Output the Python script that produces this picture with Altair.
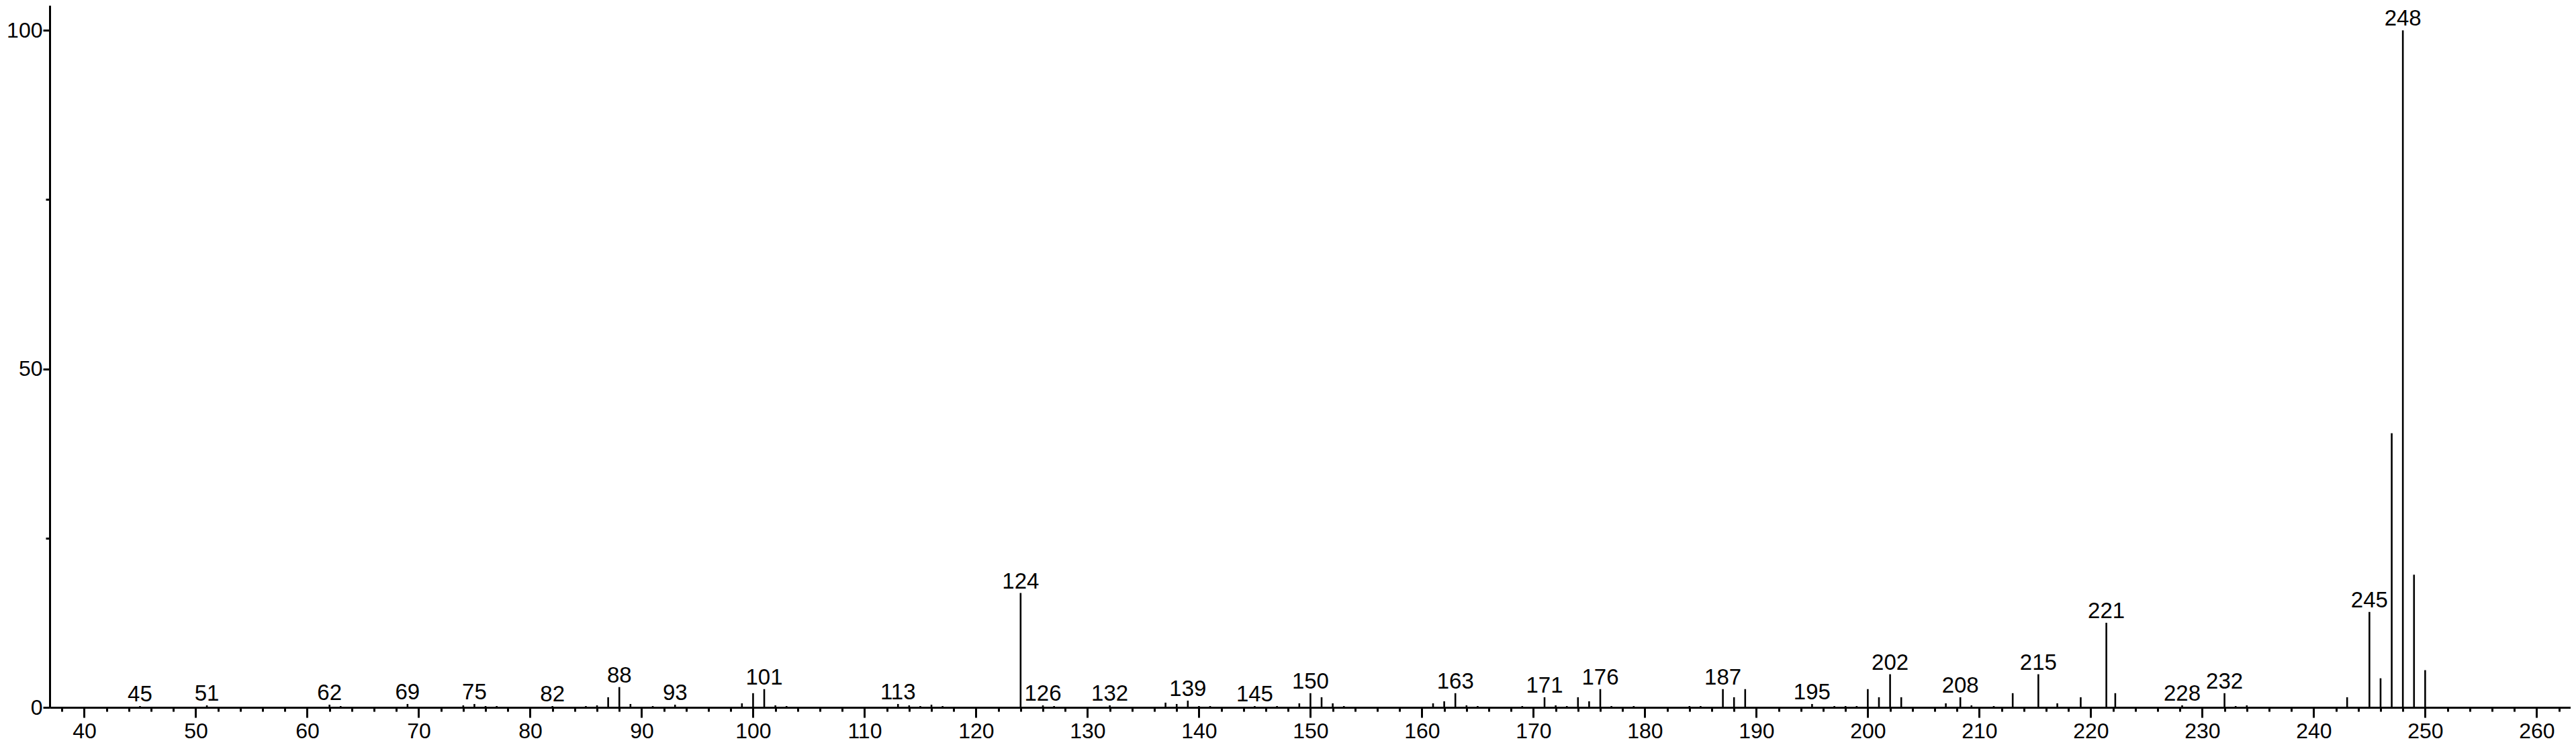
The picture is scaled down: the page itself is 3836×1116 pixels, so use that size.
import altair as alt
import pandas as pd

# m/z positions and relative intensities
mz = [45, 51, 62, 63, 69, 74, 75, 76, 77, 82, 85, 86, 87, 88, 89, 91, 93,
      99, 100, 101, 102, 103, 113, 114, 115, 116, 117, 124, 126, 127, 132,
      137, 138, 139, 140, 141, 145, 147, 149, 150, 151, 152, 153, 161, 162,
      163, 164, 165, 169, 171, 172, 173, 174, 175, 176, 177, 179, 184, 185,
      187, 188, 189, 195, 197, 198, 199, 200, 201, 202, 203, 207, 208.3,
      209.3, 211.3, 213, 215.3, 217, 219.1, 221.4, 222.2, 228.2, 232, 233,
      234, 243, 245, 246, 247, 248, 249, 250]
intensity = [0.2, 0.3, 0.4, 0.2, 0.5, 0.3, 0.5, 0.2, 0.2, 0.2, 0.2, 0.3, 1.5,
             3.0, 0.5, 0.2, 0.4, 0.6, 2.1, 2.7, 0.3, 0.2, 0.5, 0.3, 0.2, 0.4,
             0.2, 16.9, 0.3, 0.2, 0.3, 0.7, 0.5, 1.0, 0.2, 0.2, 0.2, 0.2, 0.6,
             2.1, 1.5, 0.6, 0.2, 0.6, 0.9, 2.1, 0.3, 0.2, 0.2, 1.5, 0.3, 0.2,
             1.5, 0.9, 2.7, 0.2, 0.2, 0.2, 0.2, 2.7, 1.5, 2.7, 0.5, 0.2, 0.2,
             0.2, 2.7, 1.5, 4.9, 1.5, 0.6, 1.5, 0.3, 0.2, 2.1, 4.9, 0.6, 1.5,
             12.5, 2.1, 0.3, 2.1, 0.2, 0.3, 1.5, 14.1, 4.3, 40.5, 100.0, 19.6,
             5.5]
labeled = [45, 51, 62, 69, 75, 82, 88, 93, 101, 113, 124, 126, 132, 139, 145,
           150, 163, 171, 176, 187, 195, 202, 208, 215, 221, 228, 232, 245, 248]

x_major = list(range(40, 261, 10))
x_minor = list(range(38, 263, 2))
y_major = [0, 50, 100]
y_minor = [25, 75]

labels = [str(int(round(m))) if int(round(m)) in labeled else "" for m in mz]
df = pd.DataFrame({"mz": mz, "intensity": intensity, "label": labels})

FONT = "Liberation Sans"
xscale = alt.Scale(domain=[36.9, 263.05], nice=False, zero=False)
yscale = alt.Scale(domain=[0, 103.7], nice=False, zero=False)

common_axis = dict(grid=False, title=None, domainColor="black", tickColor="black",
                   labelColor="black", domainWidth=3, tickWidth=3,
                   labelFont=FONT, labelFontSize=32)

peaks = alt.Chart(df).mark_rule(color="black", strokeWidth=2.6).encode(
    x=alt.X("mz:Q", scale=xscale,
            axis=alt.Axis(values=x_major, tickSize=15, labelPadding=5,
                          orient="bottom", labelOverlap=False, labelFlush=False,
                          **common_axis)),
    y=alt.Y("intensity:Q", scale=yscale,
            axis=alt.Axis(values=y_major, tickSize=10, labelPadding=1,
                          orient="left", labelOverlap=False, labelFlush=False,
                          **common_axis)),
    y2=alt.datum(0),
)

texts = alt.Chart(df).transform_filter(alt.datum.label != "").mark_text(
    baseline="bottom", align="center", dy=0, fontSize=33, font=FONT, color="black"
).encode(
    x=alt.X("mz:Q", scale=xscale, axis=None),
    y=alt.Y("intensity:Q", scale=yscale, axis=None),
    text="label:N",
)

minor = alt.Chart(df).mark_rule(opacity=0).encode(
    x=alt.X("mz:Q", scale=xscale,
            axis=alt.Axis(values=x_minor, tickSize=6, labels=False, domain=False,
                          orient="bottom", grid=False, title=None,
                          tickColor="black", tickWidth=3)),
    y=alt.Y("intensity:Q", scale=yscale,
            axis=alt.Axis(values=y_minor, tickSize=6, labels=False, domain=False,
                          orient="left", grid=False, title=None,
                          tickColor="black", tickWidth=3)),
)

chart = alt.layer(peaks, texts, minor).resolve_axis(
    x="independent", y="independent"
).properties(
    width=3754, height=1046,
    autosize=alt.AutoSizeParams(type="none"),
    padding={"left": 66, "top": 0, "right": 0, "bottom": 54},
    background="white",
).configure_view(strokeWidth=0)

chart.save("out.html", embed_options={"renderer": "svg", "actions": False})
